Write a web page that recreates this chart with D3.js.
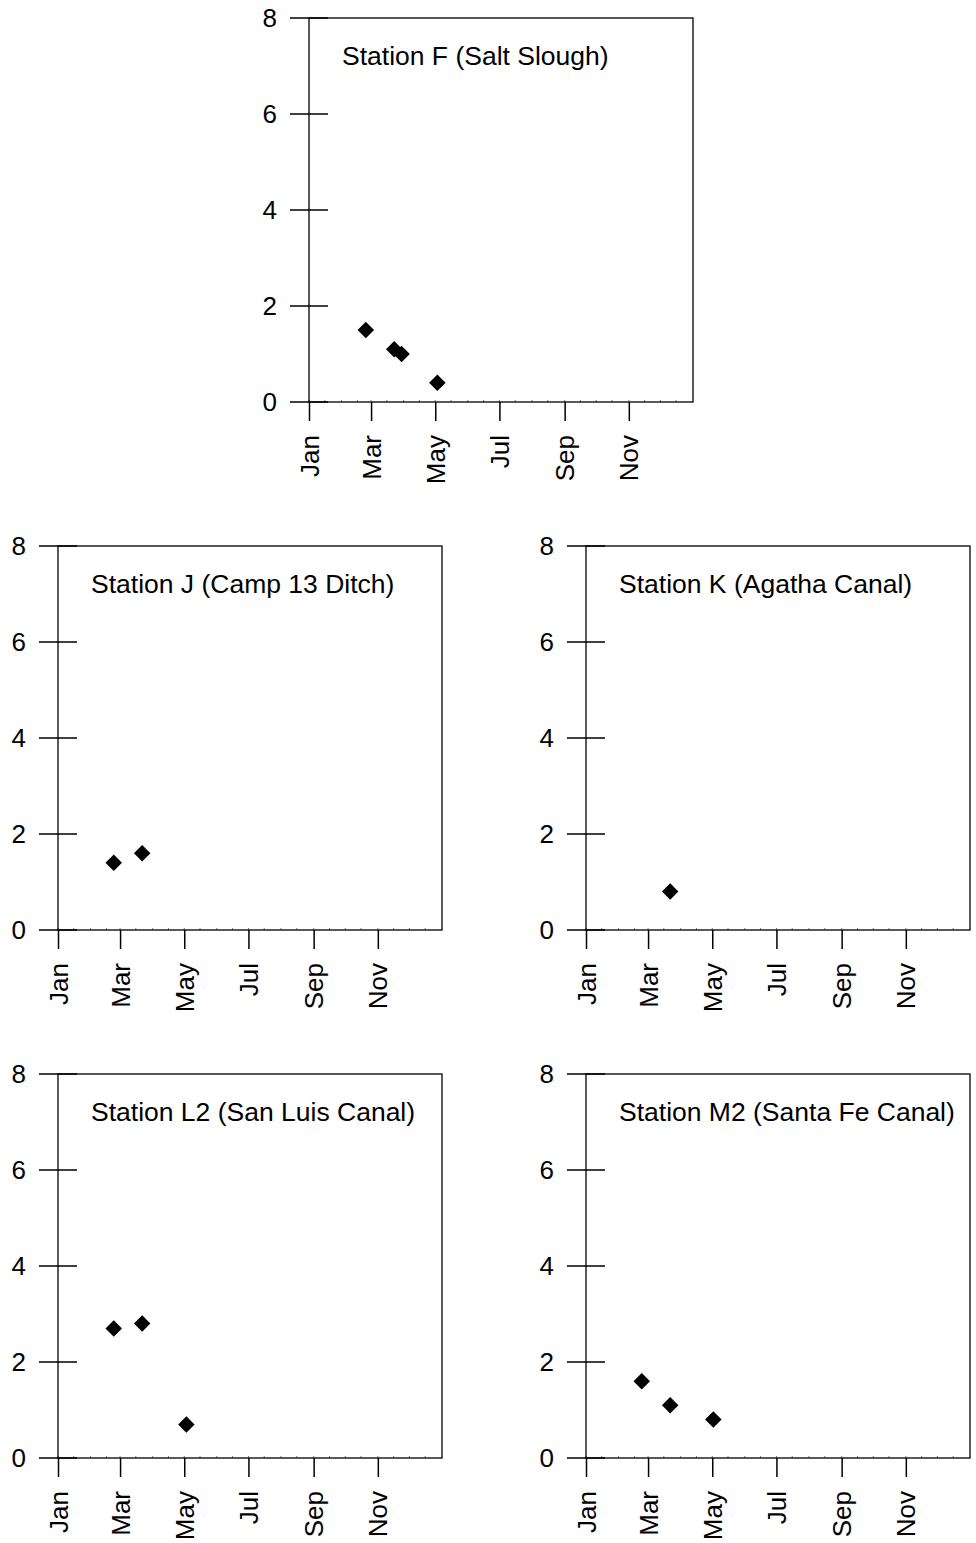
<!DOCTYPE html>
<html>
<head>
<meta charset="utf-8">
<script src="https://cdn.jsdelivr.net/npm/d3@7"></script>
<style>
  body { margin: 0; background: #fff; }
  svg { display: block; }
  text { font-family: "Liberation Sans", Arial, sans-serif; fill: #000; }
</style>
</head>
<body>
<svg id="chart" width="976" height="1543"></svg>
<script>
// ---- Data ----
const stations = ["Station F (Salt Slough)", "Station J (Camp 13 Ditch)", "Station K (Agatha Canal)", "Station L2 (San Luis Canal)", "Station M2 (Santa Fe Canal)"];
const datesF  = ["2001-02-24", "2001-03-23", "2001-03-30", "2001-05-03"];
const valuesF = [1.5, 1.1, 1.0, 0.4];
const datesJ  = ["2001-02-23", "2001-03-22"];
const valuesJ = [1.4, 1.6];
const datesK  = ["2001-03-22"];
const valuesK = [0.8];
const datesL2  = ["2001-02-23", "2001-03-22", "2001-05-03"];
const valuesL2 = [2.7, 2.8, 0.7];
const datesM2  = ["2001-02-23", "2001-03-22", "2001-05-02"];
const valuesM2 = [1.6, 1.1, 0.8];
const yTicks = [0, 2, 4, 6, 8];
const monthLabels = ["Jan", "Mar", "May", "Jul", "Sep", "Nov"];

const seriesDates = [datesF, datesJ, datesK, datesL2, datesM2];
const seriesValues = [valuesF, valuesJ, valuesK, valuesL2, valuesM2];

// ---- Layout ----
const W = 384, H = 384;
const origins = [
  {x: 309, y: 18},
  {x: 58, y: 546},
  {x: 586, y: 546},
  {x: 58, y: 1074},
  {x: 586, y: 1074}
];
const FONT = "'Liberation Sans', Arial, sans-serif";

const parse = d3.timeParse("%Y-%m-%d");
const svg = d3.select("#chart");

const x = d3.scaleTime()
  .domain([new Date(2001, 0, 1), new Date(2002, 0, 1)])
  .range([0, W]);
const y = d3.scaleLinear().domain([0, 8]).range([H, 0]);

const majorTicks = monthLabels.map((m, i) => new Date(2001, i * 2, 1));
const minorTicks = [];
for (let m = 0; m < 12; m++) {
  minorTicks.push(new Date(2001, m, 1));
  minorTicks.push(new Date(2001, m, 16));
}

stations.forEach((name, i) => {
  const o = origins[i];
  const g = svg.append("g").attr("transform", `translate(${o.x},${o.y})`);

  // minor ticks (tiny, inside)
  g.append("g").selectAll("line").data(minorTicks).join("line")
    .attr("x1", d => x(d)).attr("x2", d => x(d))
    .attr("y1", H).attr("y2", H - 2)
    .attr("stroke", "#777").attr("stroke-width", 1);

  // frame
  g.append("rect").attr("x", 0).attr("y", 0).attr("width", W).attr("height", H)
    .attr("fill", "none").attr("stroke", "#000").attr("stroke-width", 1.3);

  // y axis: ticks cross the axis
  const yAxis = d3.axisLeft(y).tickValues(yTicks).tickSize(0).tickPadding(32);
  const ya = g.append("g").call(yAxis).attr("font-size", null).attr("font-family", null);
  ya.select(".domain").remove();
  ya.selectAll("text").style("font-size", "26px").style("font-family", FONT);
  g.append("g").selectAll("line").data(yTicks).join("line")
    .attr("x1", -19).attr("x2", 19)
    .attr("y1", d => y(d)).attr("y2", d => y(d))
    .attr("stroke", "#000").attr("stroke-width", 1.3);

  // x axis: major ticks downward
  const xAxis = d3.axisBottom(x).tickValues(majorTicks)
    .tickFormat((d, j) => monthLabels[j]).tickSize(19).tickPadding(10);
  const xa = g.append("g").attr("transform", `translate(0,${H})`).call(xAxis)
    .attr("font-size", null).attr("font-family", null);
  xa.select(".domain").remove();
  xa.selectAll(".tick line").attr("stroke", "#000").attr("stroke-width", 1.5);
  xa.selectAll("text")
    .style("font-size", "26px")
    .style("font-family", FONT)
    .attr("text-anchor", "end")
    .attr("transform", "rotate(-90)")
    .attr("x", -33)
    .attr("y", 0)
    .attr("dy", "0.35em");

  // title
  g.append("text").attr("x", 33).attr("y", 47)
    .style("font-size", "26.5px").style("font-family", FONT).text(name);

  // points
  const pts = seriesDates[i].map((d, k) => ({date: parse(d), value: seriesValues[i][k]}));
  g.append("g").selectAll("path").data(pts).join("path")
    .attr("d", d3.symbol().type(d3.symbolSquare).size(136))
    .attr("transform", d => `translate(${x(d.date)},${y(d.value)}) rotate(45)`)
    .attr("fill", "#000");
});
</script>
</body>
</html>
